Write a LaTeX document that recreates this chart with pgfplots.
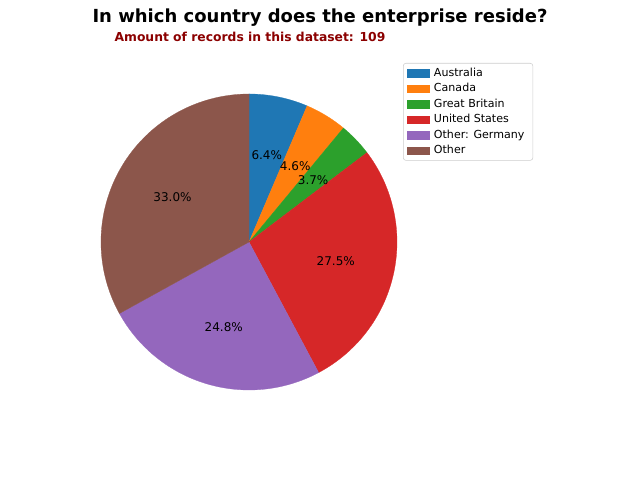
\documentclass[border=0pt]{standalone}
\usepackage{pgfplots}
\pgfplotsset{compat=1.18}
\usepackage{fontspec}
\setmainfont{DejaVu Sans}
\definecolor{c1}{HTML}{1F77B4}
\definecolor{c2}{HTML}{FF7F0E}
\definecolor{c3}{HTML}{2CA02C}
\definecolor{c4}{HTML}{D62728}
\definecolor{c5}{HTML}{9467BD}
\definecolor{c6}{HTML}{8C564B}
\definecolor{subred}{HTML}{8B0000}
\begin{document}
\begin{tikzpicture}
% record counts per category (total 109)
\def\tot{109}
\def\cA{7}\def\cB{5}\def\cC{4}\def\cD{30}\def\cE{27}\def\cF{36}
\pgfmathsetmacro{\aA}{90}
\pgfmathsetmacro{\aB}{\aA-360*\cA/\tot}
\pgfmathsetmacro{\aC}{\aB-360*\cB/\tot}
\pgfmathsetmacro{\aD}{\aC-360*\cC/\tot}
\pgfmathsetmacro{\aE}{\aD-360*\cD/\tot}
\pgfmathsetmacro{\aF}{\aE-360*\cE/\tot}
\pgfmathsetmacro{\aG}{\aF-360*\cF/\tot}
\pgfmathsetmacro{\mA}{(\aA+\aB)/2}
\pgfmathsetmacro{\mB}{(\aB+\aC)/2}
\pgfmathsetmacro{\mC}{(\aC+\aD)/2}
\pgfmathsetmacro{\mD}{(\aD+\aE)/2}
\pgfmathsetmacro{\mE}{(\aE+\aF)/2}
\pgfmathsetmacro{\mF}{(\aF+\aG)/2}
\begin{axis}[
  x=111pt, y=111pt,
  xmin=-1.6824, xmax=2.6419, ymin=-1.6081, ymax=1.6351,
  hide axis, clip=false,
  samples=80,
  legend cell align=left,
  legend image code/.code={\fill[#1, sharp corners] (0pt,-2.7pt) rectangle (16.5pt,2.7pt);},
  legend style={at={(rel axis cs:0.6297,0.86875)}, anchor=north west,
    draw=black!20, rounded corners=2pt, inner xsep=3pt, inner ysep=2pt,
    font=\fontsize{8.3}{10}\selectfont, row sep=0.8pt,
    nodes={inner xsep=3.3pt, inner ysep=1.5pt}},
]
\addplot[fill=c1, draw=c1, line width=0.2pt, data cs=polar, domain=\aB:\aA] ({x},{1}) -- (axis cs:0,0) -- cycle;
\addlegendentry{Australia}
\addplot[fill=c2, draw=c2, line width=0.2pt, data cs=polar, domain=\aC:\aB] ({x},{1}) -- (axis cs:0,0) -- cycle;
\addlegendentry{Canada}
\addplot[fill=c3, draw=c3, line width=0.2pt, data cs=polar, domain=\aD:\aC] ({x},{1}) -- (axis cs:0,0) -- cycle;
\addlegendentry{Great Britain}
\addplot[fill=c4, draw=c4, line width=0.2pt, data cs=polar, domain=\aE:\aD] ({x},{1}) -- (axis cs:0,0) -- cycle;
\addlegendentry{United States}
\addplot[fill=c5, draw=c5, line width=0.2pt, data cs=polar, domain=\aF:\aE] ({x},{1}) -- (axis cs:0,0) -- cycle;
\addlegendentry{Other: Germany}
\addplot[fill=c6, draw=c6, line width=0.2pt, data cs=polar, domain=\aG:\aF] ({x},{1}) -- (axis cs:0,0) -- cycle;
\addlegendentry{Other}
\path (rel axis cs:0,0) rectangle (rel axis cs:1,1);
\begin{scope}[font=\fontsize{9}{11}\selectfont]
\node at (axis cs:{0.6*cos(\mA)},{0.6*sin(\mA)}) {6.4\%};
\node at (axis cs:{0.6*cos(\mB)},{0.6*sin(\mB)}) {4.6\%};
\node at (axis cs:{0.6*cos(\mC)},{0.6*sin(\mC)}) {3.7\%};
\node at (axis cs:{0.6*cos(\mD)},{0.6*sin(\mD)}) {27.5\%};
\node at (axis cs:{0.6*cos(\mE)},{0.6*sin(\mE)}) {24.8\%};
\node at (axis cs:{0.6*cos(\mF)},{0.6*sin(\mF)}) {33.0\%};
\end{scope}
\node[font=\fontsize{13.5}{16}\selectfont\bfseries] at (rel axis cs:0.5,0.9625) {In which country does the enterprise reside?};
\node[font=\fontsize{9.25}{11}\selectfont\bfseries, text=subred] at (rel axis cs:0.3906,0.9229) {Amount of records in this dataset: 109};
\end{axis}
\end{tikzpicture}
\end{document}
